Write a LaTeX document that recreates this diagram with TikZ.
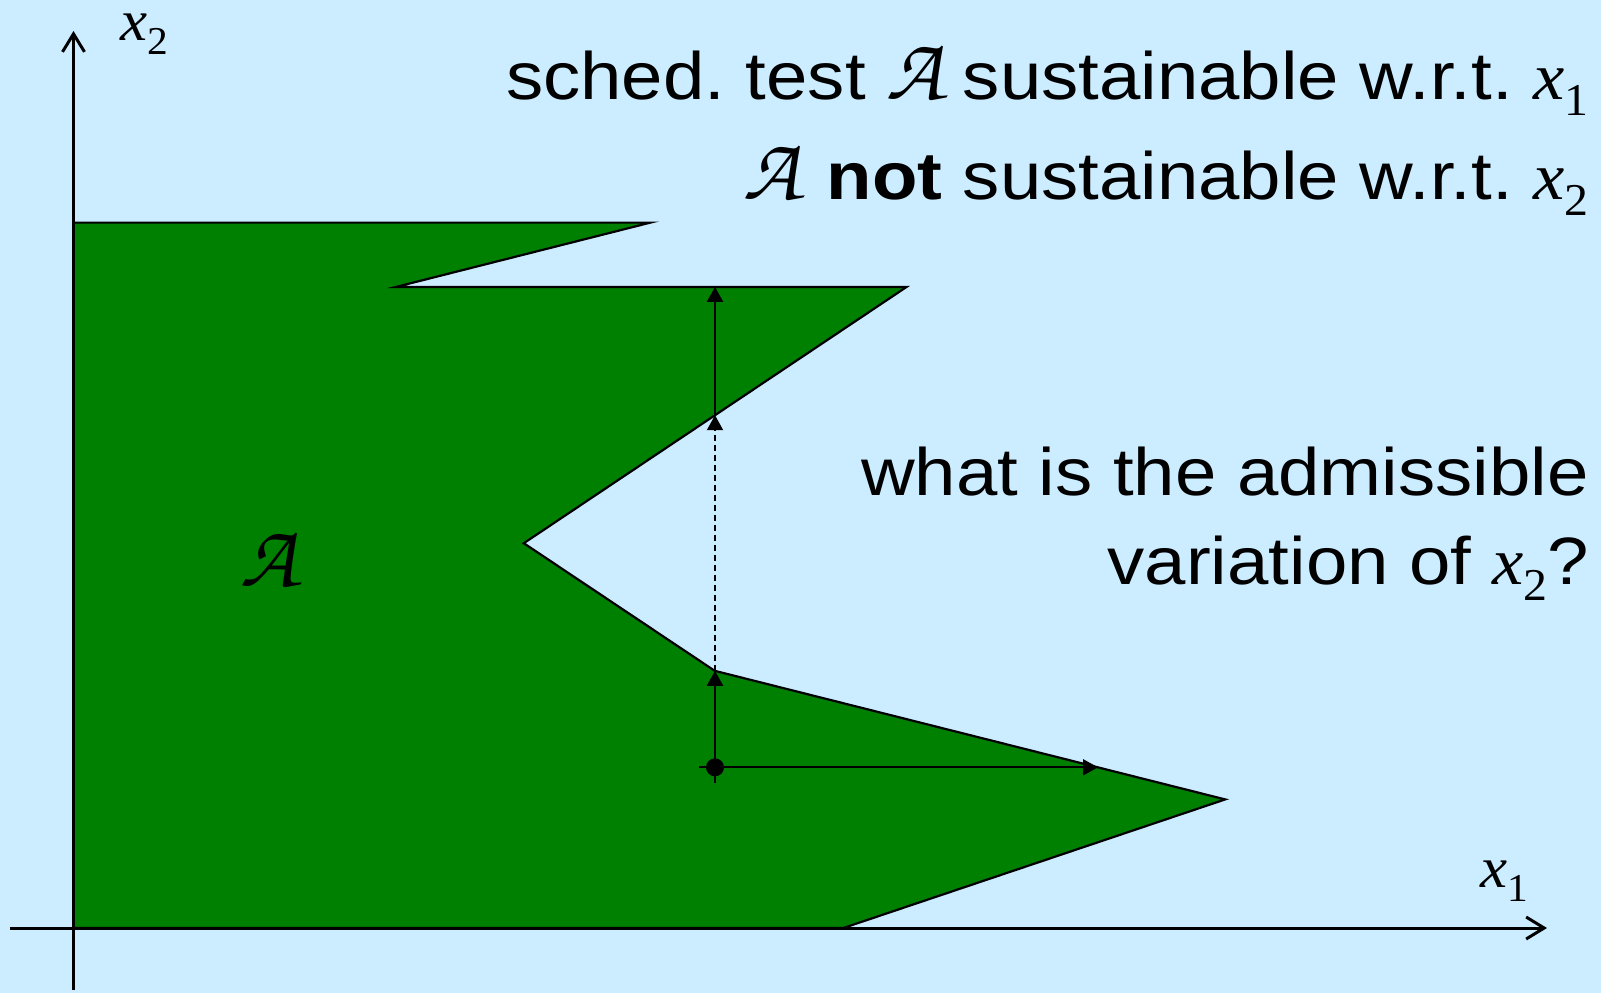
\documentclass[tikz,border=0pt]{standalone}
\usepackage{fontspec}
\setmainfont{Liberation Sans}[FakeStretch=1.11]
\newfontfamily\tms{Liberation Serif}[FakeStretch=1.05]
\usetikzlibrary{arrows.meta}
\definecolor{bg}{RGB}{204,236,255}
\definecolor{grn}{RGB}{0,128,0}
\newcommand\calA{{\fontencoding{OT1}\fontfamily{pzc}\fontseries{mb}\fontshape{it}\fontsize{45}{50}\selectfont A}}
\newcommand\xv[1]{{\tms\itshape x}\raisebox{-0.25em}{\tms\scalebox{0.68}{#1}}}
\frenchspacing
\tikzset{
  axis/.style={line width=1.5pt,-{Straight Barb[length=9pt,width=11pt]}},
  arr/.style={line width=1pt,-{Triangle[length=7.5pt,width=8pt]}},
  lbl/.style={inner sep=0pt,font=\fontsize{33.5}{40}\selectfont},
  albl/.style={inner sep=0pt,font=\fontsize{29}{34}\selectfont},
}
\begin{document}
\begin{tikzpicture}[x=0.5pt,y=-0.5pt]
\fill[bg] (0,0) rectangle (1601,993);
\useasboundingbox (0,0) rectangle (1601,993);
\draw[fill=grn,line width=1.1pt,line join=miter] (73.5,222.6) -- (650.4,222.6) -- (396.2,286.9) -- (906.6,286.9) -- (523.8,543.2) -- (714.7,670.8) -- (1225.2,799.4) -- (843.3,928) -- (73.5,928) -- cycle;
\coordinate (o1) at (10,928);
\coordinate (e1) at (1547,928);
\coordinate (o2) at (73.5,990);
\coordinate (e2) at (73.5,31);
\draw[axis] (o1) -- (e1);
\draw[axis] (o2) -- (e2);
\coordinate (dot) at (715,767.3);
\coordinate (v1) at (715,670.8);
\coordinate (c1) at (715,415.2);
\coordinate (c2) at (715,286.9);
\coordinate (h) at (1098,767.3);
\draw[line width=1pt] ([xshift=-8pt]dot) -- ([xshift=8pt]dot) ([yshift=-8pt]dot) -- ([yshift=8pt]dot);
\draw[arr] (dot) -- (v1);
\draw[arr,dash pattern=on 3pt off 2pt] (v1) -- (c1);
\draw[arr] (c1) -- (c2);
\draw[arr] (dot) -- (h);
\fill (dot) circle (4.5pt);
\node[lbl,anchor=base east] (t1) at (1589,99) {sched. test \calA{} sustainable w.r.t. \xv{1}};
\node[lbl,anchor=base east] (t2) at (1589,199) {\calA{} \textbf{not} sustainable w.r.t. \xv{2}};
\node[lbl,anchor=base east] (t3) at (1589,495) {what is the admissible};
\node[lbl,anchor=base east] (t4) at (1589,584) {variation of \xv{2}?};
\node[albl,anchor=base west] (lx2) at (120,40) {\xv{2}};
\node[albl,anchor=base west] (lx1) at (1480,887) {\xv{1}};
\node[inner sep=0pt] (bigA) at (268,558) {\calA};
\end{tikzpicture}
\end{document}
